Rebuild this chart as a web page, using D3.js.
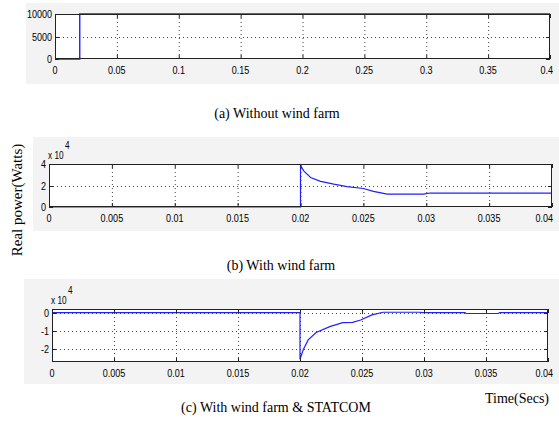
<!DOCTYPE html>
<html>
<head>
<meta charset="utf-8">
<script src="https://cdn.jsdelivr.net/npm/d3@7"></script>
<style>
  html, body { margin: 0; padding: 0; background: #fff; }
  svg { display: block; }
  .tick-lbl { font-family: "Liberation Sans", Arial, sans-serif; font-size: 11px; fill: #000; }
  .cap { font-family: "Liberation Serif", "Times New Roman", serif; font-size: 14px; fill: #000; }
</style>
</head>
<body>
<div id="chart"></div>
<script>
/* real power traces: (a) no wind farm, (b) wind farm, (c) wind farm + STATCOM */

const tA = [0, 0.02, 0.02, 0.4];
const pA = [0, 0, 10000, 10000];
const xTicksA = [0, 0.05, 0.1, 0.15, 0.2, 0.25, 0.3, 0.35, 0.4];
const yTicksA = [0, 5000, 10000];

const tB = [0, 0.02, 0.02, 0.02026, 0.0208, 0.0216, 0.02265, 0.0237, 0.025, 0.0258, 0.0269, 0.0298, 0.0303, 0.04];
const pB = [0, 0, 3.85, 3.36, 2.75, 2.39, 2.12, 1.9, 1.72, 1.45, 1.2, 1.2, 1.3, 1.3];
const tC = [0, 0.02, 0.02, 0.02026, 0.02066, 0.0213, 0.0224, 0.02344, 0.02424, 0.0249, 0.0258, 0.0267, 0.0296, 0.0300, 0.0333, 0.0334, 0.0360, 0.0361, 0.04];
const pC = [0, 0, -2.6, -2.07, -1.52, -1.11, -0.78, -0.56, -0.54, -0.41, -0.13, 0.02, 0.02, 0, 0, -0.05, -0.05, 0, 0];
const xTicksBC = [0, 0.005, 0.01, 0.015, 0.02, 0.025, 0.03, 0.035, 0.04];
const yTicksB = [0, 2, 4];
const yTicksC = [-2, -1, 0];

const captions = ['(a) Without wind farm', '(b) With wind farm', '(c) With wind farm & STATCOM'];

const W = 559, H = 428;
const BLUE = '#2020ff';
const BG = '#f3f3f3';

const svg = d3.select('#chart').append('svg').attr('width', W).attr('height', H);

function fmt(d) {
  if (d === 0) return '0';
  return String(+d.toFixed(4));
}

/* MATLAB's screen font is narrow — squeeze the glyphs horizontally */
function narrow(sel) {
  sel.each(function () {
    const w = this.getComputedTextLength();
    d3.select(this).attr('textLength', w * 0.82).attr('lengthAdjust', 'spacingAndGlyphs');
  });
}

/* keep the last tick label inside the page */
function keepIn(sel) {
  sel.each(function () {
    const bb = this.getBBox();
    const over = bb.x + bb.width - (W - 6);
    if (over > 0) d3.select(this).attr('x', +d3.select(this).attr('x') - over);
  });
}

function panel(o) {
  svg.append('rect').attr('x', o.bg[0]).attr('y', o.bg[1])
    .attr('width', o.bg[2]).attr('height', o.bg[3]).attr('fill', BG);

  const x = d3.scaleLinear().domain(o.xDom).range([o.l, o.r]);
  const y = d3.scaleLinear().domain(o.yDom).range([o.b, o.t]);

  svg.append('rect').attr('x', o.l).attr('y', o.t)
    .attr('width', o.r - o.l).attr('height', o.b - o.t).attr('fill', '#fff');

  const g = svg.append('g');

  /* dotted grid */
  g.selectAll('.gx').data(o.xTicks.slice(1, -1)).join('line')
    .attr('x1', (d) => x(d) + 0.5).attr('x2', (d) => x(d) + 0.5)
    .attr('y1', o.t).attr('y2', o.b)
    .attr('stroke', '#444').attr('stroke-width', 1).attr('stroke-dasharray', '1,3');
  g.selectAll('.gy').data(o.yTicks.filter((d) => y(d) > o.t + 2 && y(d) < o.b - 2)).join('line')
    .attr('x1', o.l).attr('x2', o.r)
    .attr('y1', (d) => Math.round(y(d)) + 0.5).attr('y2', (d) => Math.round(y(d)) + 0.5)
    .attr('stroke', '#444').attr('stroke-width', 1).attr('stroke-dasharray', '1,3');

  /* trace */
  const pts = o.tv.map((t, i) => [t, o.pv[i]]);
  g.append('path').datum(pts)
    .attr('d', d3.line().x((d) => x(d[0])).y((d) => y(d[1])))
    .attr('fill', 'none').attr('stroke', BLUE).attr('stroke-width', o.lw || 1.2);

  /* box + inward ticks */
  g.append('rect').attr('x', o.l + 0.5).attr('y', o.t + 0.5)
    .attr('width', o.r - o.l - 1).attr('height', o.b - o.t - 1)
    .attr('fill', 'none').attr('stroke', '#222').attr('stroke-width', 1);
  const tl = 4;
  g.selectAll('.tx').data(o.xTicks).join('line')
    .attr('x1', (d) => x(d) + 0.5).attr('x2', (d) => x(d) + 0.5)
    .attr('y1', o.b).attr('y2', o.b - tl).attr('stroke', '#222');
  g.selectAll('.tx2').data(o.xTicks).join('line')
    .attr('x1', (d) => x(d) + 0.5).attr('x2', (d) => x(d) + 0.5)
    .attr('y1', o.t).attr('y2', o.t + tl).attr('stroke', '#222');
  g.selectAll('.ty').data(o.yTicks).join('line')
    .attr('x1', o.l).attr('x2', o.l + tl)
    .attr('y1', (d) => Math.round(y(d)) + 0.5).attr('y2', (d) => Math.round(y(d)) + 0.5).attr('stroke', '#222');
  g.selectAll('.ty2').data(o.yTicks).join('line')
    .attr('x1', o.r).attr('x2', o.r - tl)
    .attr('y1', (d) => Math.round(y(d)) + 0.5).attr('y2', (d) => Math.round(y(d)) + 0.5).attr('stroke', '#222');

  /* tick labels */
  g.selectAll('.lx').data(o.xTicks).join('text').attr('class', 'tick-lbl')
    .attr('x', (d) => x(d)).attr('y', o.b + 15)
    .attr('text-anchor', 'middle').text(fmt).call(narrow).call(keepIn);
  g.selectAll('.ly').data(o.yTicks).join('text').attr('class', 'tick-lbl')
    .attr('x', o.l - 3).attr('y', (d) => y(d) + 4)
    .attr('text-anchor', 'end').text(fmt).call(narrow);

  if (o.exp) {
    g.append('text').attr('class', 'tick-lbl').attr('x', o.l - 1).attr('y', o.t - 5)
      .style('font-size', '10px').text('x 10').call(narrow);
    g.append('text').attr('class', 'tick-lbl').attr('x', o.l + 16).attr('y', o.t - 15)
      .style('font-size', '10px').text('4').call(narrow);
  }

  svg.append('text').attr('class', 'cap').attr('x', o.capX).attr('y', o.capY)
    .attr('text-anchor', 'middle').text(o.cap);
}

panel({
  bg: [26, 3, 533, 81], l: 55, r: 550, t: 14, b: 59,
  xDom: [0, 0.4], yDom: [0, 10000], xTicks: xTicksA, yTicks: yTicksA,
  tv: tA, pv: pA, lw: 1.4, cap: captions[0], capX: 277, capY: 118
});
panel({
  bg: [33, 137, 526, 94], l: 49, r: 552, t: 164, b: 207,
  xDom: [0, 0.04], yDom: [0, 4], xTicks: xTicksBC, yTicks: yTicksB,
  tv: tB, pv: pB, exp: true, cap: captions[1], capX: 281, capY: 270
});
panel({
  bg: [24, 279, 535, 105], l: 52, r: 548, t: 309, b: 362,
  xDom: [0, 0.04], yDom: [-2.75, 0.2], xTicks: xTicksBC, yTicks: yTicksC,
  tv: tC, pv: pC, exp: true, cap: captions[2], capX: 276, capY: 412
});

svg.append('text').attr('class', 'cap').attr('x', 549).attr('y', 403)
  .attr('text-anchor', 'end').text('Time(Secs)');

svg.append('text').attr('class', 'cap')
  .attr('transform', 'translate(22,200) rotate(-90)')
  .attr('text-anchor', 'middle').style('font-size', '15px')
  .text('Real power(Watts)');
</script>
</body>
</html>
